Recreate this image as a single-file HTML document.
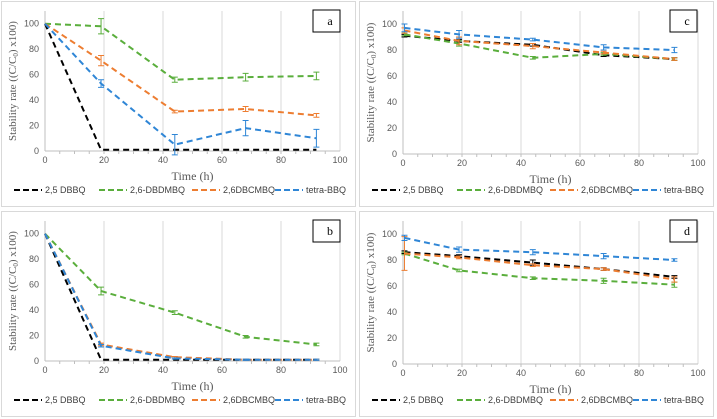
<!DOCTYPE html>
<html><head><meta charset="utf-8"><style>
body{margin:0;background:#fff;}
svg{display:block;font-family:"Liberation Sans",sans-serif;}
</style></head><body>
<svg id="c" width="717" height="419" viewBox="0 0 717 419"></svg>
<script>
const xVals=[0,19,44,68,92];
const xValsShift=[0.5,19,44,68,92];
const seriesNames=["2,5 DBBQ","2,6-DBDMBQ","2,6DBCMBQ","tetra-BBQ"];
const seriesColors=["#000000","#5aae3c","#ed7d31","#2f86d6"];
const aBlack=[100,1,1,1,1], aGreen=[100,98,56,58,59], aOrange=[100,71,31,33,28], aBlue=[100,53,5,18,10];
const aErr=[[0,0,0,0,0],[0,6,2,3,3],[0,4,1,2,1.5],[0,3,8,6,7]];
const bBlack=[100,1,1,1,1], bGreen=[100,55,38,19,13], bOrange=[100,13,3,1,1], bBlue=[100,12,2,1,1];
const bErr=[[0,0,0,0,0],[0,3,1.5,1,1],[0,1,0.5,0.5,0.5],[0,1,0.5,0.5,0.5]];
const cBlack=[91,87,84,76,73], cGreen=[92,85,74,77,73], cOrange=[95,87,83,78,73], cBlue=[97,92,88,82,80];
const cErr=[[1,1,1,1,1],[1,2,1,1,1],[2,3,2,1,1],[3,3,1,2,2]];
const dBlack=[86,83,78,73,67], dGreen=[85,72,66,64,61], dOrange=[85,82,76,73,65], dBlue=[97,88,86,83,80];
const dErr=[[1,1,2,1,1],[1,1,1,2,2],[13,1,1,1,2],[2,2,2,2,1]];
const yTicks=[0,20,40,60,80,100];
const xTicks=[0,20,40,60,80,100];

const NS="http://www.w3.org/2000/svg";
const svg=document.getElementById('c');
function mk(tag,attrs,parent){const e=document.createElementNS(NS,tag);for(const k in attrs)e.setAttribute(k,attrs[k]);(parent||svg).appendChild(e);return e;}

const panels=[
 {id:'a',ox:0,oy:0,x0:45,x1:340,y0:151,ytop:11,xs:xVals,data:[aBlack,aGreen,aOrange,aBlue],err:aErr,titleY:180,legY:193,lbl:[313,10]},
 {id:'b',ox:0,oy:210,x0:45,x1:340,y0:361,ytop:221,xs:xVals,data:[bBlack,bGreen,bOrange,bBlue],err:bErr,titleY:390,legY:403,lbl:[313,220]},
 {id:'c',ox:358,oy:0,x0:403,x1:698,y0:154,ytop:11,xs:xValsShift,data:[cBlack,cGreen,cOrange,cBlue],err:cErr,titleY:183,legY:193,lbl:[670,10]},
 {id:'d',ox:358,oy:210,x0:403,x1:698,y0:364,ytop:221,xs:xValsShift,data:[dBlack,dGreen,dOrange,dBlue],err:dErr,titleY:393,legY:403,lbl:[670,220]}
];
panels.forEach(p=>{
 const g=mk('g',{});
 
 
 const fr=mk('rect',{x:p.ox+1.5,y:p.oy+1.5,width:354,height:205,fill:'#fff',stroke:'#d9d9d9'},g);
 
 
 const sx=v=>p.x0+(p.x1-p.x0)*v/100;
 const sy=v=>p.y0-(p.y0-p.ytop)*v/110;
 xTicks.forEach(t=>{
  if(t>0){const l=mk('line',{x1:sx(t),x2:sx(t),y1:p.ytop,y2:p.y0,stroke:'#d9d9d9','stroke-width':1},g);
  }
  const tx=mk('text',{x:sx(t),y:p.y0+12,'font-size':9,fill:'#595959','text-anchor':'middle'},g);
  tx.textContent=t;
  
 });
 for(let t=5;t<100;t+=5){mk('line',{x1:sx(t),x2:sx(t),y1:p.y0,y2:p.y0+3,stroke:'#bfbfbf'},g);}
 yTicks.forEach(t=>{
  const tx=mk('text',{x:p.x0-6,y:sy(t)+3,'font-size':9,fill:'#595959','text-anchor':'end'},g);
  tx.textContent=t;
  
 });
 mk('line',{x1:p.x0,x2:p.x0,y1:p.ytop,y2:p.y0,stroke:'#bfbfbf'},g);
 mk('line',{x1:p.x0,x2:p.x1,y1:p.y0,y2:p.y0,stroke:'#bfbfbf'},g);
 const yt=mk('text',{x:0,y:0,'font-size':11,fill:'#595959','text-anchor':'middle','font-family':'Liberation Serif,serif',transform:`translate(${p.ox+16},${(p.y0+p.ytop)/2}) rotate(-90)`},g);
 yt.innerHTML='Stability rate ((C/C<tspan font-size="7" dy="2">0</tspan><tspan dy="-2">) x100)</tspan>';
 
 const xt=mk('text',{x:(p.x0+p.x1)/2,y:p.titleY,'font-size':12,fill:'#595959','text-anchor':'middle','font-family':'Liberation Serif,serif'},g);
 xt.textContent='Time (h)';
 
 p.data.forEach((arr,si)=>{
  const pts=arr.map((v,i)=>sx(p.xs[i])+','+sy(v)).join(' ');
  const pl=mk('polyline',{points:pts,fill:'none',stroke:seriesColors[si],'stroke-width':2,'stroke-dasharray':'6,4'},g);
  
  arr.forEach((v,i)=>{
   const e=p.err[si][i]; if(!e) return;
   const x=sx(p.xs[i]);
   const eb=mk('path',{d:`M${x},${sy(v-e)}V${sy(v+e)}M${x-3},${sy(v-e)}h6M${x-3},${sy(v+e)}h6`,stroke:seriesColors[si],'stroke-width':1,fill:'none'},g);
   
  });
 });
 const lb=mk('rect',{x:p.lbl[0],y:p.lbl[1],width:27,height:22,fill:'#fff',stroke:'#000','stroke-width':1},g);
 
 const lt=mk('text',{x:p.lbl[0]+17,y:p.lbl[1]+15,'font-size':12,'text-anchor':'middle','font-family':'Liberation Serif,serif'},g);
 lt.textContent=p.id;
 
 const legX=[p.ox+14,p.ox+99,p.ox+192,p.ox+275];
 seriesNames.forEach((n,si)=>{
  const lg=mk('g',{},g);
  
  mk('line',{x1:legX[si],x2:legX[si]+28,y1:p.legY-3,y2:p.legY-3,stroke:seriesColors[si],'stroke-width':2,'stroke-dasharray':'6,3'},lg);
  const t=mk('text',{x:legX[si]+31,y:p.legY,'font-size':9,fill:'#404040'},lg);
  t.textContent=n;
 });
});
</script>
</body></html>
